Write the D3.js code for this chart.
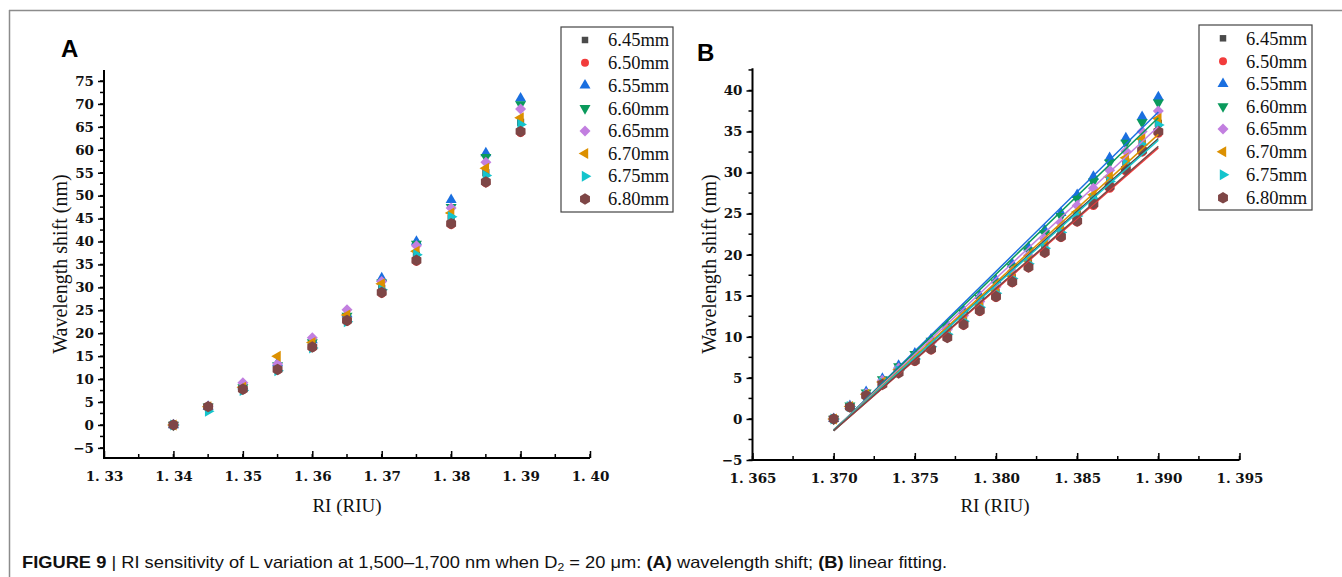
<!DOCTYPE html>
<html>
<head>
<meta charset="utf-8">
<script src="https://cdn.jsdelivr.net/npm/d3@7"></script>
<style>
  body { margin: 0; background: #fff; }
  svg { display: block; }
</style>
</head>
<body>
<svg id="fig" width="1342" height="577"></svg>
<script>
// ---- series definitions ----
const seriesNames  = ["6.45mm", "6.50mm", "6.55mm", "6.60mm", "6.65mm", "6.70mm", "6.75mm", "6.80mm"];
const seriesColors = ["#4a4a4a", "#f23c3c", "#1a6fe0", "#0a9a5c", "#c27fe0", "#dc9000", "#14c4cc", "#7e4646"];
const seriesShapes = ["square", "circle", "triUp", "triDown", "diamond", "triLeft", "triRight", "hexagon"];

// ---- panel A: wavelength shift vs RI ----
const riA = [1.340, 1.345, 1.350, 1.355, 1.360, 1.365, 1.370, 1.375, 1.380, 1.385, 1.390];
const shiftA_645 = [0, 4.0, 8.0, 12.5, 17.5, 23.2, 29.8, 37.0, 45.0, 55.0, 66.0];
const shiftA_650 = [0, 3.9, 7.7, 12.0, 16.9, 22.6, 28.7, 35.7, 43.7, 52.8, 63.8];
const shiftA_655 = [0, 4.0, 8.5, 13.5, 18.5, 24.2, 32.0, 40.0, 49.1, 59.3, 71.2];
const shiftA_660 = [0, 4.0, 8.2, 13.0, 18.0, 23.8, 31.0, 39.5, 47.5, 58.4, 69.9];
const shiftA_665 = [0, 4.1, 9.2, 13.3, 19.0, 25.1, 31.3, 39.1, 47.3, 57.3, 68.9];
const shiftA_670 = [0, 4.0, 8.2, 15.0, 18.0, 24.0, 30.8, 37.9, 46.2, 56.0, 67.0];
const shiftA_675 = [0, 3.0, 7.5, 11.8, 16.8, 22.5, 29.5, 37.1, 45.4, 54.4, 65.5];
const shiftA_680 = [0, 4.0, 7.8, 12.1, 17.0, 22.8, 28.9, 35.9, 43.9, 53.0, 64.0];

// ---- panel B: fine RI steps with linear fits ----
const riB = [1.370, 1.371, 1.372, 1.373, 1.374, 1.375, 1.376, 1.377, 1.378, 1.379, 1.380,
             1.381, 1.382, 1.383, 1.384, 1.385, 1.386, 1.387, 1.388, 1.389, 1.390];
const shiftB_645 = [0, 1.5, 3.0, 4.5, 5.9, 7.4, 8.9, 10.4, 12.0, 13.7, 15.4, 17.2, 19.0, 20.9, 22.9, 24.9, 27.0, 29.1, 31.3, 33.6, 36.0];
const shiftB_650 = [0, 1.4, 2.8, 4.2, 5.6, 7.0, 8.4, 9.9, 11.4, 13.1, 14.8, 16.6, 18.4, 20.2, 22.1, 24.0, 26.0, 28.1, 30.2, 32.5, 34.8];
const shiftB_655 = [0, 1.6, 3.3, 4.9, 6.5, 8.0, 9.7, 11.4, 13.2, 15.0, 16.9, 18.9, 20.9, 23.0, 25.1, 27.3, 29.5, 31.8, 34.2, 36.8, 39.2];
const shiftB_660 = [0, 1.6, 3.2, 4.8, 6.4, 7.9, 9.5, 11.2, 12.9, 14.7, 16.6, 18.5, 20.5, 22.6, 24.7, 26.8, 28.9, 31.2, 33.6, 36.1, 38.5];
const shiftB_665 = [0, 1.5, 3.1, 4.7, 6.2, 7.7, 9.3, 10.9, 12.6, 14.3, 16.1, 18.0, 19.9, 21.9, 23.9, 26.0, 28.1, 30.3, 32.6, 35.0, 37.5];
const shiftB_670 = [0, 1.5, 3.0, 4.5, 6.0, 7.5, 9.0, 10.6, 12.2, 13.9, 15.6, 17.4, 19.3, 21.2, 23.2, 25.2, 27.3, 29.5, 31.8, 34.1, 36.6];
const shiftB_675 = [0, 1.5, 2.9, 4.4, 5.9, 7.3, 8.8, 10.3, 11.9, 13.6, 15.3, 17.1, 18.9, 20.8, 22.7, 24.7, 26.8, 28.9, 31.1, 33.4, 35.8];
const shiftB_680 = [0, 1.45, 2.85, 4.2, 5.6, 7.1, 8.5, 9.9, 11.5, 13.2, 14.9, 16.7, 18.5, 20.3, 22.2, 24.1, 26.2, 28.3, 30.4, 32.7, 35.0];

// ---- tick values ----
const ticksAX = [1.33, 1.34, 1.35, 1.36, 1.37, 1.38, 1.39, 1.40];
const ticksAY = [-5, 0, 5, 10, 15, 20, 25, 30, 35, 40, 45, 50, 55, 60, 65, 70, 75];
const ticksBX = [1.365, 1.370, 1.375, 1.380, 1.385, 1.390, 1.395];
const ticksBY = [-5, 0, 5, 10, 15, 20, 25, 30, 35, 40];

const seriesA = [shiftA_645, shiftA_650, shiftA_655, shiftA_660, shiftA_665, shiftA_670, shiftA_675, shiftA_680];
const seriesB = [shiftB_645, shiftB_650, shiftB_655, shiftB_660, shiftB_665, shiftB_670, shiftB_675, shiftB_680];

const svg = d3.select("#fig");
const tickFont = "'DejaVu Serif', serif";
const labelFont = "'Liberation Serif', 'Times New Roman', serif";

// Marker outline as a polygon / symbol path centred on 0,0
function markerPath(shape, s) {
  const poly = pts => "M" + pts.map(p => p[0].toFixed(2) + "," + p[1].toFixed(2)).join("L") + "Z";
  const rot = (pts, a) => pts.map(([x, y]) => [x * Math.cos(a) - y * Math.sin(a), x * Math.sin(a) + y * Math.cos(a)]);
  const h = s * 0.866;
  const tri = [[0, -2 * h / 3], [s / 2, h / 3], [-s / 2, h / 3]];
  switch (shape) {
    case "square": { const a = s * 0.36; return poly([[-a, -a], [a, -a], [a, a], [-a, a]]); }
    case "circle": return d3.symbol(d3.symbolCircle, Math.PI * (s * 0.42) ** 2)();
    case "triUp": return poly(tri);
    case "triDown": return poly(rot(tri, Math.PI));
    case "triLeft": return poly(rot(tri, -Math.PI / 2));
    case "triRight": return poly(rot(tri, Math.PI / 2));
    case "diamond": { const r = s * 0.5; return poly([[0, -r], [r, 0], [0, r], [-r, 0]]); }
    case "hexagon": {
      const r = s * 0.52;
      return poly(d3.range(6).map(i => { const a = Math.PI / 3 * i - Math.PI / 2; return [r * Math.cos(a), r * Math.sin(a)]; }));
    }
  }
}

function drawAxes(g, x, y, xTicks, yTicks, xMinorStep, yMinorStep, xFmt) {
  const [x0, x1] = x.domain();
  const [y0, y1] = y.domain();
  const xr = x.range(), yr = y.range();

  // minor ticks
  const xMinor = d3.range(Math.ceil(x0 / xMinorStep - 1e-6), Math.floor(x1 / xMinorStep + 1e-6) + 1)
    .map(i => +(i * xMinorStep).toFixed(5));
  g.append("g").selectAll("line").data(xMinor).join("line")
    .attr("x1", d => x(d)).attr("x2", d => x(d))
    .attr("y1", yr[0]).attr("y2", yr[0] - 4)
    .attr("stroke", "#000").attr("stroke-width", 1.5);
  const yMinor = d3.range(Math.ceil(y0 / yMinorStep - 1e-6), Math.floor(y1 / yMinorStep + 1e-6) + 1)
    .map(i => i * yMinorStep);
  g.append("g").selectAll("line").data(yMinor).join("line")
    .attr("x1", xr[0]).attr("x2", xr[0] - 4)
    .attr("y1", d => y(d)).attr("y2", d => y(d))
    .attr("stroke", "#000").attr("stroke-width", 1.5);

  // x axis (ticks pointing inward)
  const ax = g.append("g").attr("transform", `translate(0,${yr[0]})`)
    .call(d3.axisBottom(x).tickValues(xTicks).tickFormat(xFmt).tickSizeInner(-7).tickSizeOuter(0).tickPadding(13));
  ax.select(".domain").attr("stroke-width", 2).attr("d", `M${xr[0]},0H${xr[1]}`);
  ax.selectAll(".tick line").attr("stroke-width", 1.5);
  ax.selectAll("text").attr("font-family", tickFont).attr("font-weight", "bold")
    .attr("font-size", 13.5).attr("fill", "#111");

  // y axis (ticks pointing outward)
  const ay = g.append("g").attr("transform", `translate(${xr[0]},0)`)
    .call(d3.axisLeft(y).tickValues(yTicks).tickSizeInner(6).tickSizeOuter(0).tickPadding(4));
  ay.select(".domain").attr("stroke-width", 2).attr("d", `M0,${yr[0] + 1}V${yr[1]}`);
  ay.selectAll(".tick line").attr("stroke-width", 1.5);
  ay.selectAll("text").attr("font-family", tickFont).attr("font-weight", "bold")
    .attr("font-size", 13.5).attr("fill", "#111");
}

function drawLegend(g, left, top, w, h, rowY, symX, textX) {
  g.append("rect").attr("x", left).attr("y", top).attr("width", w).attr("height", h)
    .attr("fill", "#fff").attr("stroke", "#444").attr("stroke-width", 1.2);
  seriesNames.forEach((name, i) => {
    const cy = rowY[i];
    const sz = seriesShapes[i] === "square" ? 9 : (seriesShapes[i] === "circle" ? 9.5 : 11);
    g.append("path").attr("d", markerPath(seriesShapes[i], sz))
      .attr("transform", `translate(${symX},${cy})`).attr("fill", seriesColors[i]);
    g.append("text").attr("x", textX).attr("y", cy).attr("dy", "0.34em")
      .attr("font-family", labelFont).attr("font-size", 18.5).attr("fill", "#111").text(name);
  });
}

function axisTitles(g, xTitleX, yTitleX) {
  g.append("text").attr("x", xTitleX).attr("y", 512).attr("text-anchor", "middle")
    .attr("font-family", labelFont).attr("font-size", 19).attr("fill", "#111").text("RI (RIU)");
  g.append("text").attr("transform", `translate(${yTitleX},264) rotate(-90)`)
    .attr("text-anchor", "middle").attr("dy", "0.35em")
    .attr("font-family", labelFont).attr("font-size", 20).attr("fill", "#111").text("Wavelength shift (nm)");
}

// ---- figure frame ----
svg.append("line").attr("x1", 9).attr("x2", 1342).attr("y1", 10.5).attr("y2", 10.5)
  .attr("stroke", "#8c8c8c").attr("stroke-width", 1.5);
svg.append("line").attr("x1", 9.5).attr("x2", 9.5).attr("y1", 10).attr("y2", 577)
  .attr("stroke", "#8c8c8c").attr("stroke-width", 1.5);

// ================= Panel A =================
const gA = svg.append("g");
const xA = d3.scaleLinear().domain([1.33, 1.40]).range([104, 590]);
const yA = d3.scaleLinear().domain([-7.2, 77.4]).range([458, 70]);
drawAxes(gA, xA, yA, ticksAX, ticksAY, 0.005, 2.5, d => d.toFixed(2).replace(".", ". "));

seriesA.forEach((vals, i) => {
  gA.append("g").selectAll("path").data(vals).join("path")
    .attr("d", markerPath(seriesShapes[i], seriesShapes[i] === "square" ? 10 : 11))
    .attr("transform", (v, j) => `translate(${xA(riA[j])},${yA(v)})`)
    .attr("fill", seriesColors[i]);
});
gA.append("text").attr("x", 61).attr("y", 57).attr("font-family", "'Liberation Sans', Arial, sans-serif")
  .attr("font-weight", "bold").attr("font-size", 24).attr("fill", "#000").text("A");
axisTitles(gA, 347, 60);
drawLegend(gA, 561, 27, 112, 185, [40, 62.7, 85.3, 108.3, 131, 153.5, 176.2, 199], 585, 608);

// ================= Panel B =================
const gB = svg.append("g");
const xB = d3.scaleLinear().domain([1.365, 1.395]).range([752.5, 1239.5]);
const yB = d3.scaleLinear().domain([-5, 42.7]).range([460, 68.3]);
drawAxes(gB, xB, yB, ticksBX, ticksBY, 0.0025, 2.5, d => d.toFixed(3).replace(".", ". "));

// least-squares line through each series
function linFit(xs, ys) {
  const mx = d3.mean(xs), my = d3.mean(ys);
  const sxy = d3.sum(xs, (x, k) => (x - mx) * (ys[k] - my));
  const sxx = d3.sum(xs, x => (x - mx) ** 2);
  const b = sxy / sxx;
  return x => my + b * (x - mx);
}

const markersB = gB.append("g");
const linesB = gB.append("g");
seriesB.forEach((vals, i) => {
  markersB.append("g").selectAll("path").data(vals).join("path")
    .attr("d", markerPath(seriesShapes[i], seriesShapes[i] === "square" ? 10 : 11))
    .attr("transform", (v, j) => `translate(${xB(riB[j])},${yB(v)})`)
    .attr("fill", seriesColors[i]);
});
seriesB.forEach((vals, i) => {
  const f = linFit(riB, vals);
  const ends = [riB[0], riB[riB.length - 1]];
  linesB.append("line")
    .attr("x1", xB(ends[0])).attr("y1", yB(f(ends[0])))
    .attr("x2", xB(ends[1])).attr("y2", yB(f(ends[1])))
    .attr("stroke", seriesColors[i]).attr("stroke-width", 1.5);
});
gB.append("text").attr("x", 697).attr("y", 60.5).attr("font-family", "'Liberation Sans', Arial, sans-serif")
  .attr("font-weight", "bold").attr("font-size", 24).attr("fill", "#000").text("B");
axisTitles(gB, 995, 709);
drawLegend(gB, 1199, 25, 113, 185, [38.3, 61.3, 83.8, 106.5, 129, 151.8, 174.8, 197.8], 1223, 1246);

// ---- caption ----
const cap = svg.append("text").attr("x", 0).attr("y", 0)
  .attr("font-family", "'Liberation Sans Narrow', 'Arial Narrow', 'Liberation Sans', Arial, sans-serif")
  .attr("font-size", 16.5).attr("fill", "#111");
cap.append("tspan").attr("font-weight", "bold").text("FIGURE 9");
cap.append("tspan").text(" | RI sensitivity of L variation at 1,500–1,700 nm when D");
cap.append("tspan").attr("font-size", 11).attr("dy", 3).text("2");
cap.append("tspan").attr("dy", -3).text(" = 20 μm: ");
cap.append("tspan").attr("font-weight", "bold").text("(A)");
cap.append("tspan").text(" wavelength shift; ");
cap.append("tspan").attr("font-weight", "bold").text("(B)");
cap.append("tspan").text(" linear fitting.");
const capW = cap.node().getComputedTextLength();
cap.attr("transform", `translate(22,568) scale(${926 / capW},1)`);
</script>
</body>
</html>
